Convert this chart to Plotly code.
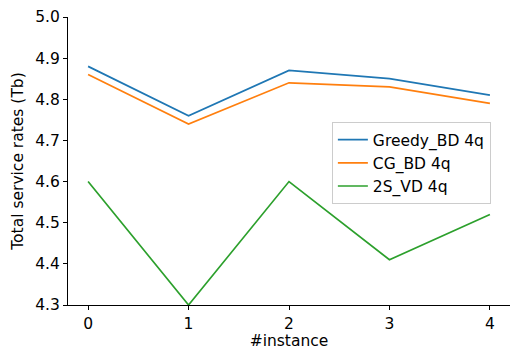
import plotly.graph_objects as go

instances = [0, 1, 2, 3, 4]
greedy_bd = [4.88, 4.76, 4.87, 4.85, 4.81]
cg_bd = [4.86, 4.74, 4.84, 4.83, 4.79]
s2_vd = [4.60, 4.30, 4.60, 4.41, 4.52]
names = ["Greedy_BD 4q", "CG_BD 4q", "2S_VD 4q"]
colors = ["#1f77b4", "#ff7f0e", "#2ca02c"]
y_ticks = [4.3, 4.4, 4.5, 4.6, 4.7, 4.8, 4.9, 5.0]

fig = go.Figure()
for name, vals, c in zip(names, [greedy_bd, cg_bd, s2_vd], colors):
    fig.add_trace(go.Scatter(x=instances, y=vals, mode="lines", name=name,
                             line=dict(color=c, width=1.7)))

font = "DejaVu Sans, sans-serif"
fs = 15.5
fig.update_layout(
    width=510, height=350,
    margin=dict(l=68, r=0, t=17, b=45, autoexpand=False),
    paper_bgcolor="white", plot_bgcolor="white",
    font=dict(family=font, size=fs, color="#000"),
    showlegend=True,
    legend=dict(x=0.597, y=0.635, xanchor="left", yanchor="top",
                bgcolor="rgba(255,255,255,0.8)", bordercolor="#cccccc", borderwidth=1,
                font=dict(family=font, size=fs), tracegroupgap=0),
    xaxis=dict(range=[-0.2, 4.2], tickvals=instances, ticktext=[str(i) for i in instances],
               showgrid=False, zeroline=False, showline=True, linecolor="#000", linewidth=1,
               ticks="outside", ticklen=4, tickcolor="#000", automargin=True,
               title=dict(text="#instance", font=dict(size=fs), standoff=3)),
    yaxis=dict(range=[4.3, 5.0], tickvals=y_ticks, ticktext=[f"{v:.1f}" for v in y_ticks],
               showgrid=False, zeroline=False, showline=True, linecolor="#000", linewidth=1,
               ticks="outside", ticklen=4, tickcolor="#000", automargin=True,
               title=dict(text="Total service rates (Tb)", font=dict(size=fs), standoff=7)),
)

fig.write_html("out.html", config={"displayModeBar": False},
               post_script="document.body.style.margin='0';")
